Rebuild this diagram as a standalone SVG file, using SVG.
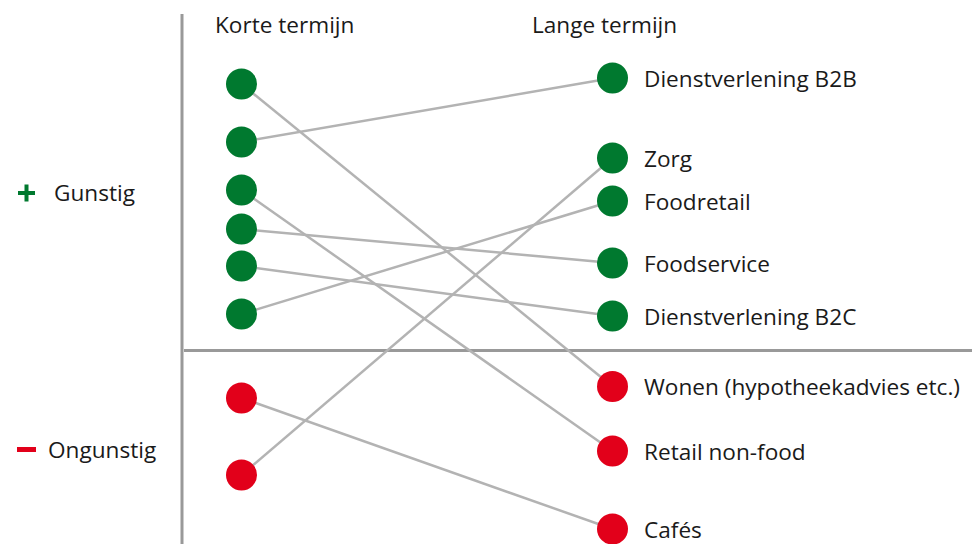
<svg xmlns="http://www.w3.org/2000/svg" width="972" height="544" viewBox="0 0 972 544">
<style>
text{font-family:"Open Sans","Liberation Sans",sans-serif;font-size:22.6px;fill:#1a1a1a}
.g{fill:#00792f}
.r{fill:#e2001a}
.c line{stroke:#b3b3b3;stroke-width:2.5}
.ax{stroke:#999;stroke-width:3}
</style>
<rect width="972" height="544" fill="#fff"/>
<g id="axes">
<line class="ax" x1="182" y1="14" x2="182" y2="544"/>
<line class="ax" x1="184" y1="350.5" x2="972" y2="350.5"/>
</g>
<g id="headers">
<text x="215" y="33">Korte termijn</text>
<text x="532" y="33">Lange termijn</text>
</g>
<g id="legend">
<rect class="g" x="18" y="191" width="17" height="4"/>
<rect class="g" x="24.5" y="184.5" width="4" height="17"/>
<text x="54" y="201">Gunstig</text>
<rect class="r" x="17" y="447" width="19" height="5"/>
<text x="48" y="458">Ongunstig</text>
</g>
<g id="connectors" class="c">
<line x1="241.5" y1="84" x2="612.5" y2="386.5"/>
<line x1="241.5" y1="142" x2="612.5" y2="78"/>
<line x1="241.5" y1="190" x2="612.5" y2="451"/>
<line x1="241.5" y1="229" x2="612.5" y2="263"/>
<line x1="241.5" y1="266" x2="612.5" y2="316"/>
<line x1="241.5" y1="314" x2="612.5" y2="201"/>
<line x1="241.5" y1="398" x2="612.5" y2="529"/>
<line x1="241.5" y1="475" x2="612.5" y2="158"/>
</g>
<g id="short-1"><circle class="g" cx="241.5" cy="84" r="15.5"/></g>
<g id="short-2"><circle class="g" cx="241.5" cy="142" r="15.5"/></g>
<g id="short-3"><circle class="g" cx="241.5" cy="190" r="15.5"/></g>
<g id="short-4"><circle class="g" cx="241.5" cy="229" r="15.5"/></g>
<g id="short-5"><circle class="g" cx="241.5" cy="266" r="15.5"/></g>
<g id="short-6"><circle class="g" cx="241.5" cy="314" r="15.5"/></g>
<g id="short-7"><circle class="r" cx="241.5" cy="398" r="15.5"/></g>
<g id="short-8"><circle class="r" cx="241.5" cy="475" r="15.5"/></g>
<g id="dienst-b2b"><circle class="g" cx="612.5" cy="78" r="15.5"/><text x="644" y="87">Dienstverlening B2B</text></g>
<g id="zorg"><circle class="g" cx="612.5" cy="158" r="15.5"/><text x="644" y="167">Zorg</text></g>
<g id="foodretail"><circle class="g" cx="612.5" cy="201" r="15.5"/><text x="644" y="210">Foodretail</text></g>
<g id="foodservice"><circle class="g" cx="612.5" cy="263" r="15.5"/><text x="644" y="272">Foodservice</text></g>
<g id="dienst-b2c"><circle class="g" cx="612.5" cy="316" r="15.5"/><text x="644" y="325">Dienstverlening B2C</text></g>
<g id="wonen"><circle class="r" cx="612.5" cy="386.5" r="15.5"/><text x="644" y="395">Wonen (hypotheekadvies etc.)</text></g>
<g id="retail"><circle class="r" cx="612.5" cy="451" r="15.5"/><text x="644" y="460">Retail non-food</text></g>
<g id="cafes"><circle class="r" cx="612.5" cy="529" r="15.5"/><text x="644" y="538">Cafés</text></g>
</svg>
